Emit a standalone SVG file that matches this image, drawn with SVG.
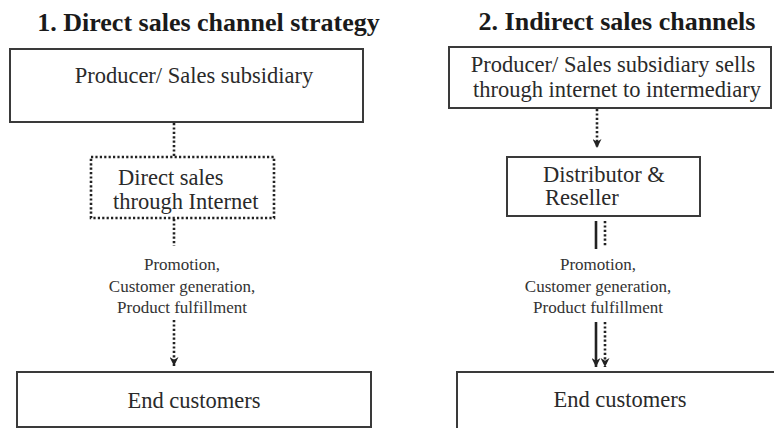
<svg xmlns="http://www.w3.org/2000/svg" width="774" height="428" viewBox="0 0 774 428">
<style>
.title{font-family:"Liberation Serif","Times New Roman",serif;font-weight:bold;font-size:26px;fill:#1a1a1a;text-anchor:middle}
.t{font-family:"Liberation Serif","Times New Roman",serif;font-size:22.5px;fill:#2a2a2a}
.s{font-family:"Liberation Serif","Times New Roman",serif;font-size:17px;fill:#333;text-anchor:middle}
.box{fill:#fff;stroke:#3a3a3a;stroke-width:2}
.dbox{fill:#fff;stroke:#222;stroke-width:2.6;stroke-dasharray:2.2 2.2}
.dot{fill:none;stroke:#222;stroke-width:2.6;stroke-dasharray:2.2 2.2}
.sol{fill:none;stroke:#222;stroke-width:2.6}
</style>
<defs>
<marker id="ah" viewBox="0 0 10 10" refX="10" refY="5" markerWidth="9" markerHeight="9" markerUnits="userSpaceOnUse" orient="auto">
<path d="M0,0 L10,5 L0,10 L3,5 z" fill="#222"/>
</marker>
</defs>
<rect width="774" height="428" fill="#fff"/>
<text class="title" x="208.5" y="31">1. Direct sales channel strategy</text>
<text class="title" x="617" y="30">2. Indirect sales channels</text>

<g id="connectors">
<line class="dot" x1="174" y1="123" x2="174" y2="157"/>
<line class="dot" x1="174" y1="219" x2="174" y2="246"/>
<line class="dot" x1="174" y1="320" x2="174" y2="366" marker-end="url(#ah)"/>
<line class="dot" x1="597" y1="109" x2="597" y2="148" marker-end="url(#ah)"/>
<line class="sol" x1="596" y1="221" x2="596" y2="249"/>
<line class="dot" x1="605" y1="221" x2="605" y2="246"/>
<line class="sol" x1="596" y1="322" x2="596" y2="367" marker-end="url(#ah)"/>
<line class="dot" x1="605" y1="322" x2="605" y2="367" marker-end="url(#ah)"/>
</g>

<g id="producer-left">
<rect class="box" x="10" y="49" width="353" height="73"/>
<text class="t" x="194" y="83" text-anchor="middle">Producer/ Sales subsidiary</text>
</g>
<g id="direct-internet">
<rect class="dbox" x="91" y="157" width="183" height="61"/>
<text class="t" x="118" y="185">Direct sales</text>
<text class="t" x="113" y="209">through Internet</text>
</g>
<g id="label-left">
<text class="s" x="182" y="270">Promotion,</text>
<text class="s" x="182" y="292">Customer generation,</text>
<text class="s" x="182" y="313">Product fulfillment</text>
</g>
<g id="end-left">
<rect class="box" x="17" y="372" width="354" height="55"/>
<text class="t" x="194" y="408" text-anchor="middle">End customers</text>
</g>

<g id="producer-right">
<rect class="box" x="449" y="47" width="322" height="61"/>
<text class="t" x="613" y="72" text-anchor="middle">Producer/ Sales subsidiary sells</text>
<text class="t" x="617" y="97" text-anchor="middle">through internet to intermediary</text>
</g>
<g id="distributor">
<rect class="box" x="507" y="157" width="193" height="59"/>
<text class="t" x="543" y="182">Distributor &amp;</text>
<text class="t" x="545" y="205">Reseller</text>
</g>
<g id="label-right">
<text class="s" x="598" y="270">Promotion,</text>
<text class="s" x="598" y="292">Customer generation,</text>
<text class="s" x="598" y="313">Product fulfillment</text>
</g>
<g id="end-right">
<rect class="box" x="457" y="372" width="340" height="70"/>
<text class="t" x="620" y="407" text-anchor="middle">End customers</text>
</g>
</svg>
